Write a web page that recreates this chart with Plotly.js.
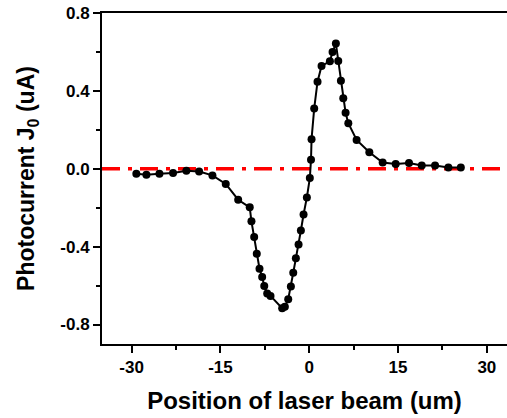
<!DOCTYPE html>
<html>
<head>
<meta charset="utf-8">
<script src="https://cdn.plot.ly/plotly-3.0.1.min.js"></script>
<style>html,body{margin:0;padding:0;background:#fff;}#chart{width:507px;height:418px;}</style>
</head>
<body>
<div id="chart"></div>
<script>
// Position of laser beam (um)
const positions = [-29.2, -27.5, -25.3, -23.0, -20.75, -18.6, -16.35, -14.1, -12.0, -10.05, -9.76, -9.3, -8.86, -8.4, -7.95, -7.6, -7.1, -6.54, -4.57, -4.12, -3.55, -3.1, -2.7, -2.26, -1.8, -1.41, -0.96, -0.4, 0.1, 0.3, 0.39, 0.84, 1.4, 2.08, 3.49, 3.94, 4.5, 4.9, 5.35, 5.75, 6.14, 6.6, 8.0, 10.15, 12.4, 14.6, 16.85, 19.0, 21.25, 23.5, 25.6];
// Photocurrent J0 (uA)
const photocurrent = [-0.026, -0.031, -0.026, -0.022, -0.01, -0.014, -0.034, -0.078, -0.159, -0.198, -0.27, -0.351, -0.437, -0.513, -0.556, -0.602, -0.64, -0.653, -0.716, -0.709, -0.67, -0.605, -0.534, -0.46, -0.389, -0.317, -0.235, -0.147, -0.048, 0.046, 0.152, 0.31, 0.447, 0.528, 0.552, 0.6, 0.643, 0.554, 0.452, 0.362, 0.288, 0.234, 0.148, 0.085, 0.032, 0.024, 0.029, 0.017, 0.017, 0.007, 0.007];
const xRange = [-35, 33.4];
const yRange = [-0.9, 0.8];
const xTicks = [-30, -15, 0, 15, 30];
const yTicks = [-0.8, -0.4, 0.0, 0.4, 0.8];
const yTickText = ['-0.8', '-0.4', '0.0', '0.4', '0.8'];
const refLineY = [0, 0];

const font = {family: 'Liberation Sans, Arial, sans-serif', color: '#000'};

const traces = [
  {
    x: xRange, y: refLineY, mode: 'lines', type: 'scatter',
    line: {color: '#ff0000', width: 3.5, dash: '18px,8px,4px,8px'},
    hoverinfo: 'skip', cliponaxis: false
  },
  {
    x: positions, y: photocurrent, mode: 'lines+markers', type: 'scatter',
    line: {color: '#000', width: 2},
    marker: {color: '#000', size: 8}
  }
];

const layout = {
  width: 507, height: 418,
  margin: {l: 102, r: 0, t: 13, b: 74},
  paper_bgcolor: '#fff', plot_bgcolor: '#fff',
  showlegend: false,
  font: font,
  xaxis: {
    range: xRange, tickvals: xTicks, ticktext: xTicks.map(String),
    showgrid: false, zeroline: false,
    showline: true, linecolor: '#000', linewidth: 2, mirror: true,
    ticks: 'outside', ticklen: 7, tickwidth: 2, tickcolor: '#000',
    minor: {tickvals: [-22.5, -7.5, 7.5, 22.5], ticks: 'outside', ticklen: 4, tickwidth: 2, tickcolor: '#000', showgrid: false},
    tickfont: {family: font.family, size: 17, color: '#000', weight: 'bold'},
    title: {text: '<b>Position of laser beam (um)</b>', font: {family: font.family, size: 24, color: '#000'}, standoff: 16}
  },
  yaxis: {
    range: yRange, tickvals: yTicks, ticktext: yTickText,
    showgrid: false, zeroline: false,
    showline: true, linecolor: '#000', linewidth: 2, mirror: false,
    ticks: 'outside', ticklen: 7, tickwidth: 2, tickcolor: '#000',
    minor: {tickvals: [-0.6, -0.2, 0.2, 0.6], ticks: 'outside', ticklen: 4, tickwidth: 2, tickcolor: '#000', showgrid: false},
    tickfont: {family: font.family, size: 17, color: '#000', weight: 'bold'},
    title: {text: '<b>Photocurrent J<sub>0</sub> (uA)</b>', font: {family: font.family, size: 23, color: '#000'}, standoff: 19}
  }
};

Plotly.newPlot('chart', traces, layout, {displayModeBar: false, staticPlot: true});
</script>
</body>
</html>
